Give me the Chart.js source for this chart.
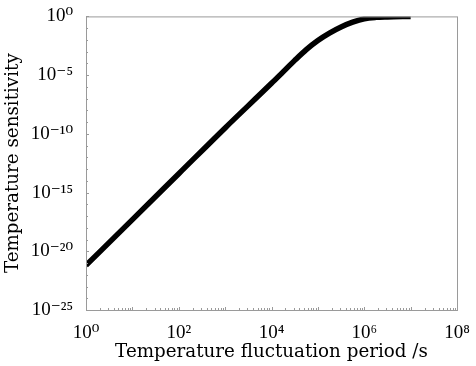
<!DOCTYPE html>
<html>
<head>
<meta charset="utf-8">
<script src="https://cdn.jsdelivr.net/npm/chart.js@4"></script>
<style>
  html, body { margin: 0; padding: 0; background: #fff; }
  #wrap { width: 476px; height: 366px; position: relative; }
</style>
</head>
<body>
<div id="wrap"><canvas id="chart"></canvas></div>
<script>
// fluctuation period (s) and sensitivity
const periods = [1, 10, 100, 1000, 1e4, 17783, 31623, 56234, 1e5, 177828, 316228, 562341, 1e6, 1778279, 3162278, 1e7];
const sensitivity = [6.3e-22, 5.0e-18, 4.0e-14, 3.2e-10, 2.0e-6, 1.9e-5, 1.8e-4, 1.5e-3, 8.9e-3, 3.8e-2, 0.126, 0.32, 0.63, 0.83, 0.91, 1.0];
const xTicks = [1, 1e2, 1e4, 1e6, 1e8];
const yTicks = [1e-25, 1e-20, 1e-15, 1e-10, 1e-5, 1];

const TICK_FONT = '"Liberation Serif", "DejaVu Serif", serif';
const TITLE_FONT = '"DejaVu Serif", "Liberation Serif", serif';
const SUP = { '0': '⁰', '1': '¹', '2': '²', '3': '³', '4': '⁴', '5': '⁵', '6': '⁶', '7': '⁷', '8': '⁸', '9': '⁹', '-': '⁻' };

function powLabel(v) {
    const e = String(Math.round(Math.log10(v)));
    return '10' + e.split('').map(c => SUP[c]).join('');
}

// frame and small inward ticks
const framePlugin = {
    id: 'frame',
    afterDatasetsDraw(chart) {
        const { ctx, chartArea: a, scales } = chart;
        ctx.save();
        ctx.strokeStyle = '#9a9a9a';
        ctx.lineWidth = 1;
        ctx.strokeRect(a.left + 0.5, a.top + 0.5, a.right - a.left, a.bottom - a.top);
        ctx.beginPath();
        for (let d = 0; d < 8; d++) {
            for (let m = 1; m < 10; m++) {
                const x = Math.round(scales.x.getPixelForValue(m * Math.pow(10, d))) + 0.5;
                const len = m === 1 ? 3 : 2;
                ctx.moveTo(x, a.bottom);
                ctx.lineTo(x, a.bottom - len);
            }
        }
        for (let d = -25; d <= 0; d++) {
            const y = Math.round(scales.y.getPixelForValue(Math.pow(10, d))) + 0.5;
            const len = d % 5 === 0 ? 3 : 2;
            ctx.moveTo(a.left, y);
            ctx.lineTo(a.left + len, y);
        }
        ctx.stroke();
        ctx.restore();
    }
};

new Chart(document.getElementById('chart'), {
    type: 'line',
    data: {
        datasets: [{
            data: periods.map((p, i) => ({ x: p, y: sensitivity[i] })),
            borderColor: '#000',
            borderWidth: 5.5,
            pointRadius: 0,
            cubicInterpolationMode: 'monotone',
            fill: false
        }]
    },
    options: {
        responsive: true,
        maintainAspectRatio: false,
        animation: false,
        devicePixelRatio: 1,
        layout: { padding: { top: 14, right: 19, left: 0, bottom: 0 } },
        plugins: { legend: { display: false }, tooltip: { enabled: false } },
        scales: {
            x: {
                type: 'logarithmic',
                min: 1, max: 1e8,
                afterBuildTicks: s => { s.ticks = xTicks.map(v => ({ value: v })); },
                afterFit: s => { s.height = 56; },
                grid: { display: false },
                border: { display: false },
                ticks: {
                    color: '#000',
                    font: { family: TICK_FONT, size: 19 },
                    padding: 4,
                    maxRotation: 0,
                    autoSkip: false,
                    callback: v => powLabel(v)
                },
                title: {
                    display: true,
                    text: 'Temperature fluctuation period /s',
                    color: '#000',
                    font: { family: TITLE_FONT, size: 18.3 },
                    padding: { top: 0, bottom: 3 }
                }
            },
            y: {
                type: 'logarithmic',
                min: 1e-25, max: 1,
                afterBuildTicks: s => { s.ticks = yTicks.map(v => ({ value: v })); },
                afterFit: s => { s.width = 86; },
                grid: { display: false },
                border: { display: false },
                ticks: {
                    color: '#000',
                    font: { family: TICK_FONT, size: 19 },
                    padding: 5,
                    autoSkip: false,
                    callback: v => powLabel(v)
                },
                title: {
                    display: true,
                    text: 'Temperature sensitivity',
                    color: '#000',
                    font: { family: TITLE_FONT, size: 18.3 },
                    padding: { top: 2, bottom: 0 }
                }
            }
        }
    },
    plugins: [framePlugin]
});
</script>
</body>
</html>
